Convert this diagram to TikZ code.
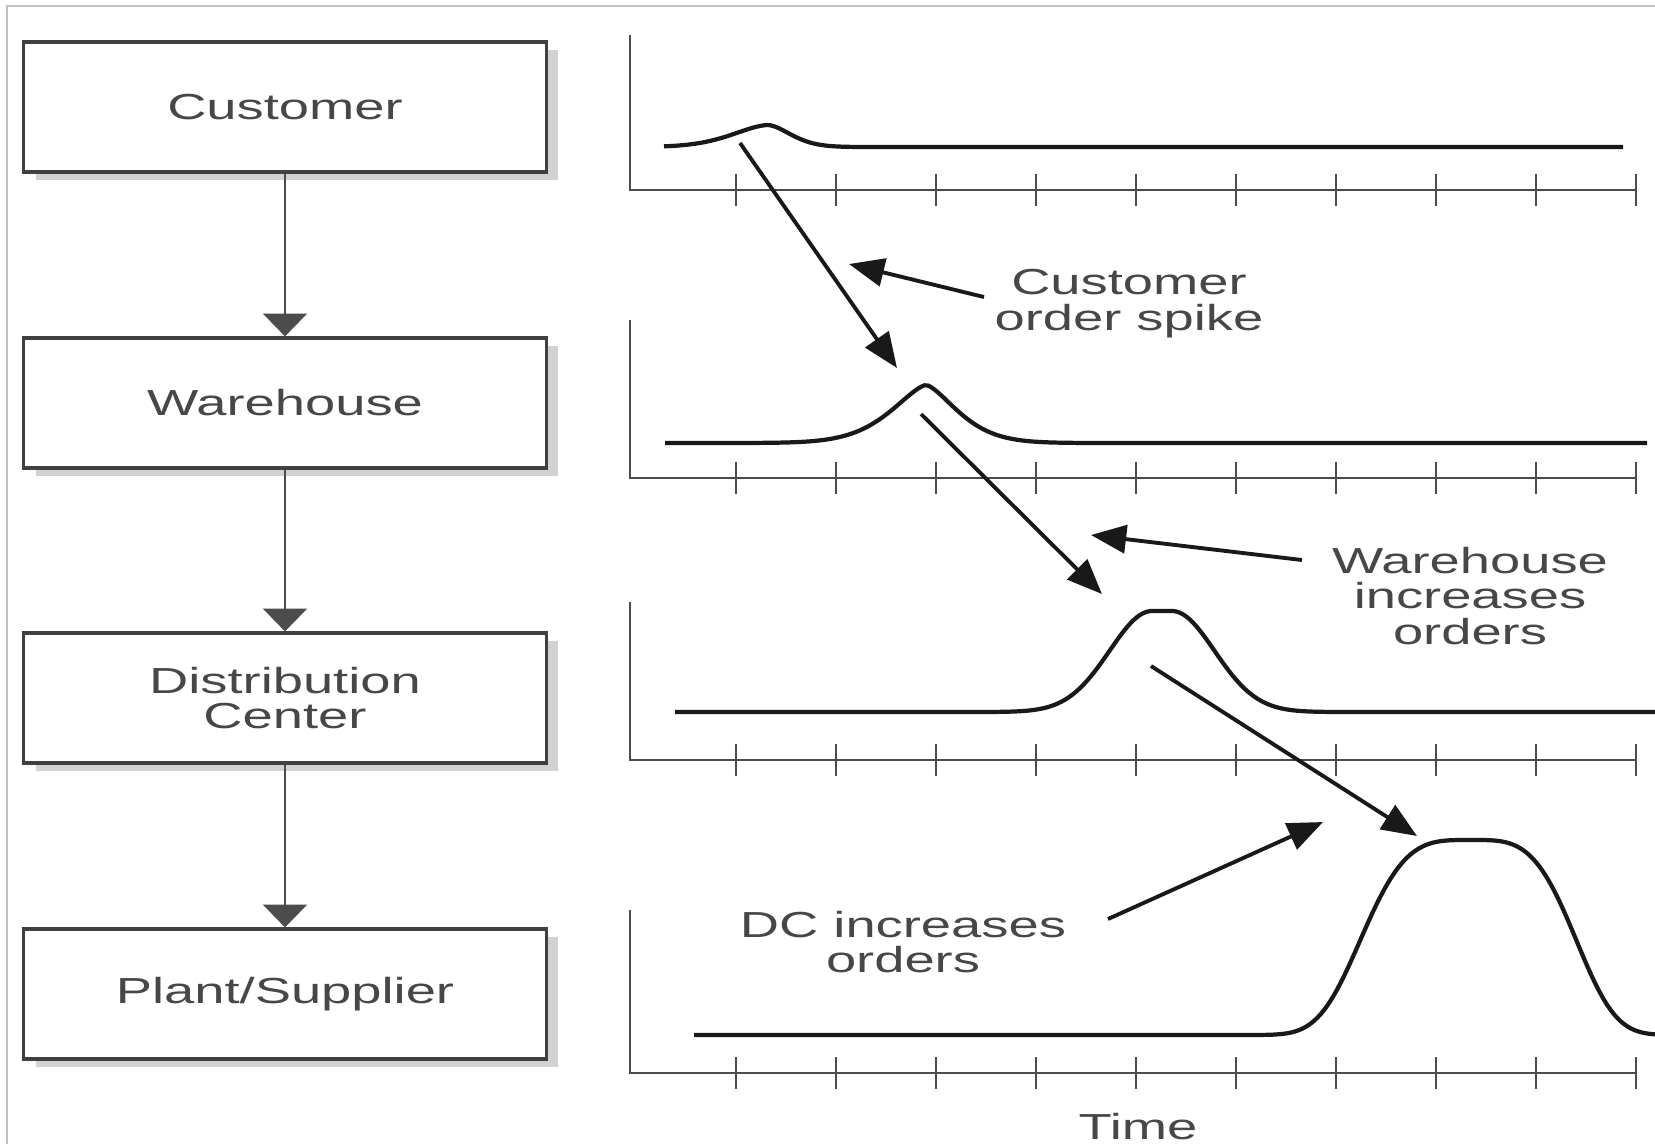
\documentclass[tikz,border=0pt]{standalone}
\usepackage{fontspec}
\setmainfont{Liberation Sans}[FakeStretch=1.5]
\usetikzlibrary{arrows.meta,shadows}

\begin{document}
\begin{tikzpicture}[x=0.01cm,y=-0.01cm,font=\fontsize{10.3}{10.2}\selectfont]
		\tikzset{stage/.style = {shape=rectangle,draw=black!75,line width=0.9pt,fill=white,text=black!72,align=center,minimum width=5.22cm,minimum height=1.30cm,drop shadow={shadow xshift=0.12cm,shadow yshift=-0.08cm,fill=black!18,opacity=1}}}
		\tikzset{flow/.style = {-{Triangle[width=12.5pt,length=6.5pt]},draw=black!70,line width=0.7pt}}
		\tikzset{lag/.style = {-{Triangle[width=8pt,length=10pt]},draw=black!90,line width=1.1pt}}
		\tikzset{note/.style = {align=center,text=black!72}}
		\tikzset{axis/.style = {draw=black!70,line width=0.7pt}}
		\tikzset{demand/.style = {draw=black!90,line width=1.2pt,samples=300}}
		\useasboundingbox (0,0) rectangle (1655,1144);
		\draw[black!25,line width=0.8pt] (7,1144) -- (7,6) -- (1655,6);
		\node[stage] (cust) at (285,107) {Customer};
		\node[stage] (wh) at (285,403) {Warehouse};
		\node[stage] (dc) at (285,698) {Distribution\\Center};
		\node[stage] (plant) at (285,994) {Plant/Supplier};
		\draw[flow] (cust) -- (wh);
		\draw[flow] (wh) -- (dc);
		\draw[flow] (dc) -- (plant);
		\foreach \ya/\yt in {190/35,478/320,760/602,1073/910} {
			\draw[axis] (630,\yt) -- (630,\ya) -- (1636,\ya);
			\foreach \t in {0,...,9}
				\draw[axis] ({736+100*\t},{\ya-16}) -- ({736+100*\t},{\ya+16});
		}
		\draw[demand] plot[domain=664:1623] (\x,{147-22*exp(-min(15,(abs(\x-768)/ifthenelse(\x<768,50,32))^1.7))});
		\draw[demand] plot[domain=665:1647] (\x,{443-58*exp(-min(15,(abs(\x-926)/ifthenelse(\x<926,50,45))^1.5))});
		\draw[demand] plot[domain=675:1655] (\x,{712-101*exp(-min(15,(max(0,abs(\x-1162)-10)/60)^2))});
		\draw[demand] plot[domain=694:1655] (\x,{1035-195*exp(-min(15,(abs(\x-1471)/ifthenelse(\x<1471,121,115))^3.7))});
		\coordinate (p1) at (740,143);
		\coordinate (p2) at (897,368);
		\coordinate (p3) at (921,414);
		\coordinate (p4) at (1102,594);
		\coordinate (p5) at (1151,666);
		\coordinate (p6) at (1417,836);
		\draw[lag] (p1) -- (p2);
		\draw[lag] (p3) -- (p4);
		\draw[lag] (p5) -- (p6);
		\node[note] (spike) at (1129,304) {Customer\\order spike};
		\node[note] (whinc) at (1470,596) {Warehouse\\increases\\orders};
		\node[note] (dcinc) at (903,942) {DC increases\\orders};
		\node[note] (time) at (1138,1127) {Time};
		\coordinate (s1) at (984,297);
		\coordinate (s2) at (849,264);
		\coordinate (w1) at (1302,560);
		\coordinate (w2) at (1091,535);
		\coordinate (d1) at (1108,919);
		\coordinate (d2) at (1323,822);
		\draw[lag] (s1) -- (s2);
		\draw[lag] (w1) -- (w2);
		\draw[lag] (d1) -- (d2);
	\end{tikzpicture}
\end{document}
